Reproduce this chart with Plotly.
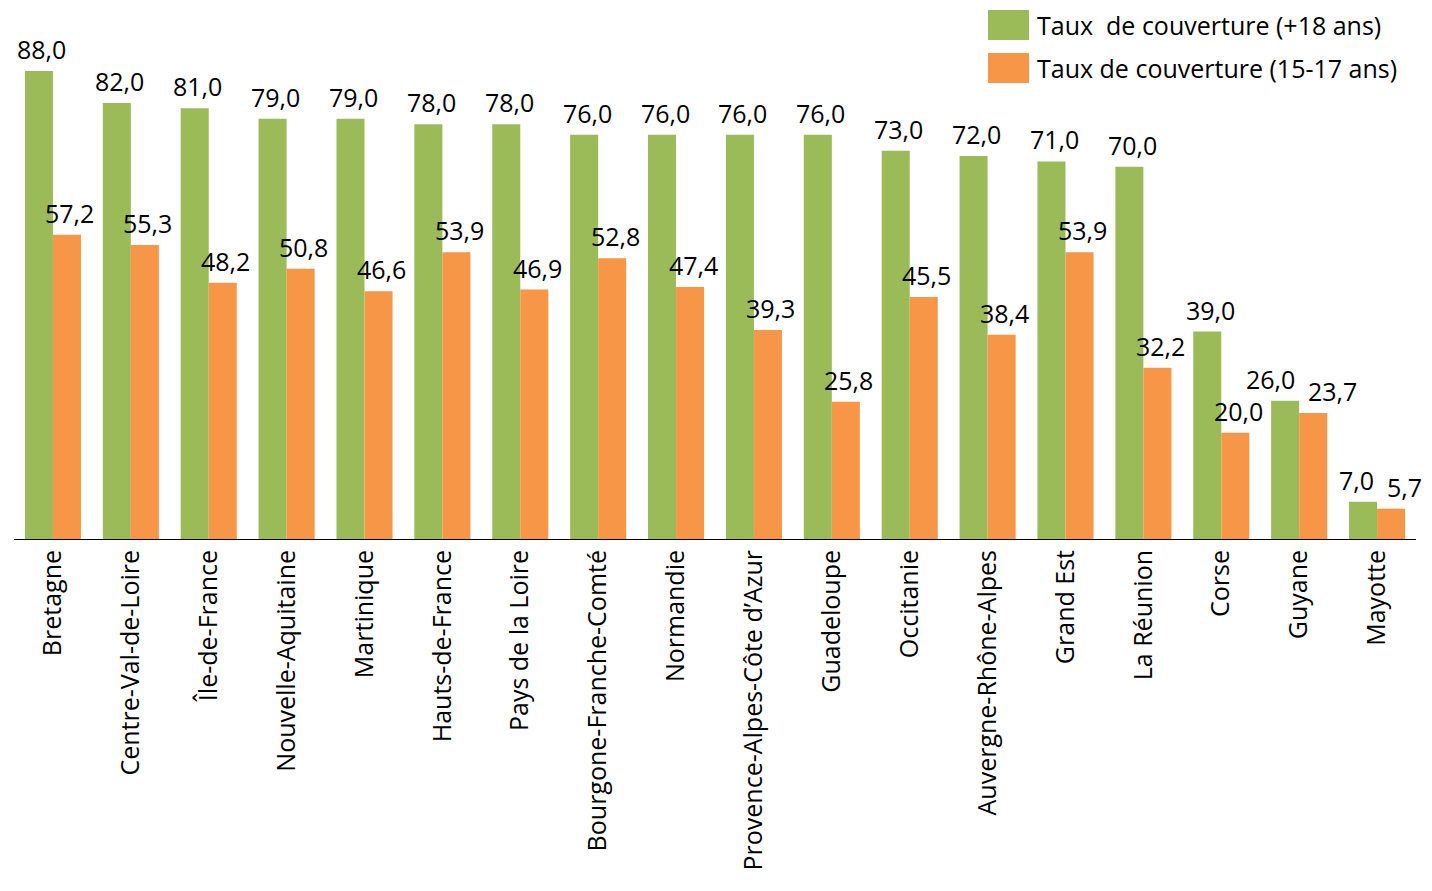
import plotly.graph_objects as go

regions = ["Bretagne", "Centre-Val-de-Loire", "Île-de-France", "Nouvelle-Aquitaine",
           "Martinique", "Hauts-de-France", "Pays de la Loire", "Bourgone-Franche-Comté",
           "Normandie", "Provence-Alpes-Côte d’Azur", "Guadeloupe", "Occitanie",
           "Auvergne-Rhône-Alpes", "Grand Est", "La Réunion", "Corse", "Guyane", "Mayotte"]
taux_18 = [88.0, 82.0, 81.0, 79.0, 79.0, 78.0, 78.0, 76.0, 76.0, 76.0, 76.0, 73.0,
           72.0, 71.0, 70.0, 39.0, 26.0, 7.0]
taux_15_17 = [57.2, 55.3, 48.2, 50.8, 46.6, 53.9, 46.9, 52.8, 47.4, 39.3, 25.8, 45.5,
              38.4, 53.9, 32.2, 20.0, 23.7, 5.7]
series_names = ["Taux  de couverture (+18 ans)", "Taux de couverture (15-17 ans)"]
colors = ["#9BBB59", "#F79646"]

# label nudges (pixels from bar centre), as in the original chart
DEFAULT_NUDGE = 3
label_nudge_18 = {"Guyane": -15, "Mayotte": -7}
label_nudge_15 = {"Corse": 3, "Guyane": 19, "Mayotte": 13}

FONT = "Open Sans, Segoe UI, sans-serif"
FS = 25

# page geometry: the figure div sits inside the default 8px body margin
BODY = 8
FIG_W, FIG_H = 1432 - 2 * BODY, 891 - 2 * BODY
PX0, PX1 = 14, 1416       # plot area x in page pixels
PY_TOP, PY_BASE = 8, 539  # plot area y in page pixels
PW, PH = PX1 - PX0, PY_BASE - PY_TOP

fig = go.Figure()
for name, vals, col in zip(series_names, [taux_18, taux_15_17], colors):
    fig.add_trace(go.Bar(
        x=regions, y=vals, name=name, marker_color=col, marker_line_width=0,
        showlegend=False,
    ))

BAR_HALF = 14
for vals, sign, nudges in [(taux_18, -1, label_nudge_18), (taux_15_17, 1, label_nudge_15)]:
    for reg, v in zip(regions, vals):
        fig.add_annotation(
            x=reg, y=v, text=f"{v:.1f}".replace(".", ","), showarrow=False,
            xanchor="center", yanchor="bottom",
            xshift=sign * BAR_HALF + nudges.get(reg, DEFAULT_NUDGE), yshift=3,
            font=dict(size=FS, color="black", family=FONT),
        )

# legend drawn manually to match the large swatches
leg_y = [25, 68]
for name, col, yc in zip(series_names, colors, leg_y):
    fig.add_shape(type="rect", xref="paper", yref="paper",
                  x0=(988 - PX0) / PW, x1=(1029 - PX0) / PW,
                  y0=(PY_BASE - (yc + 15)) / PH, y1=(PY_BASE - (yc - 15)) / PH,
                  fillcolor=col, line_width=0)
    fig.add_annotation(xref="paper", yref="paper", x=(1035 - PX0) / PW,
                       y=(PY_BASE - yc) / PH, text=name, showarrow=False,
                       xanchor="left", yanchor="middle",
                       font=dict(size=FS, color="black", family=FONT))

fig.update_layout(
    template="none",
    width=FIG_W, height=FIG_H, autosize=False,
    margin=dict(l=PX0 - BODY, r=FIG_W - (PX1 - BODY), t=PY_TOP - BODY,
                b=FIG_H - (PY_BASE - BODY), pad=0, autoexpand=False),
    plot_bgcolor="white", paper_bgcolor="white",
    barmode="group", bargap=0.28, bargroupgap=0,
    font=dict(family=FONT, color="black", size=FS),
    xaxis=dict(showline=True, linecolor="black", linewidth=1, ticks="",
               tickangle=-90, tickfont=dict(size=FS, color="black", family=FONT),
               showgrid=False, automargin=False, range=[-0.5, len(regions) - 0.5]),
    yaxis=dict(range=[0, PH / (468 / 88)], visible=False, showgrid=False,
               zeroline=False, automargin=False),
)

fig.write_html("out.html")
